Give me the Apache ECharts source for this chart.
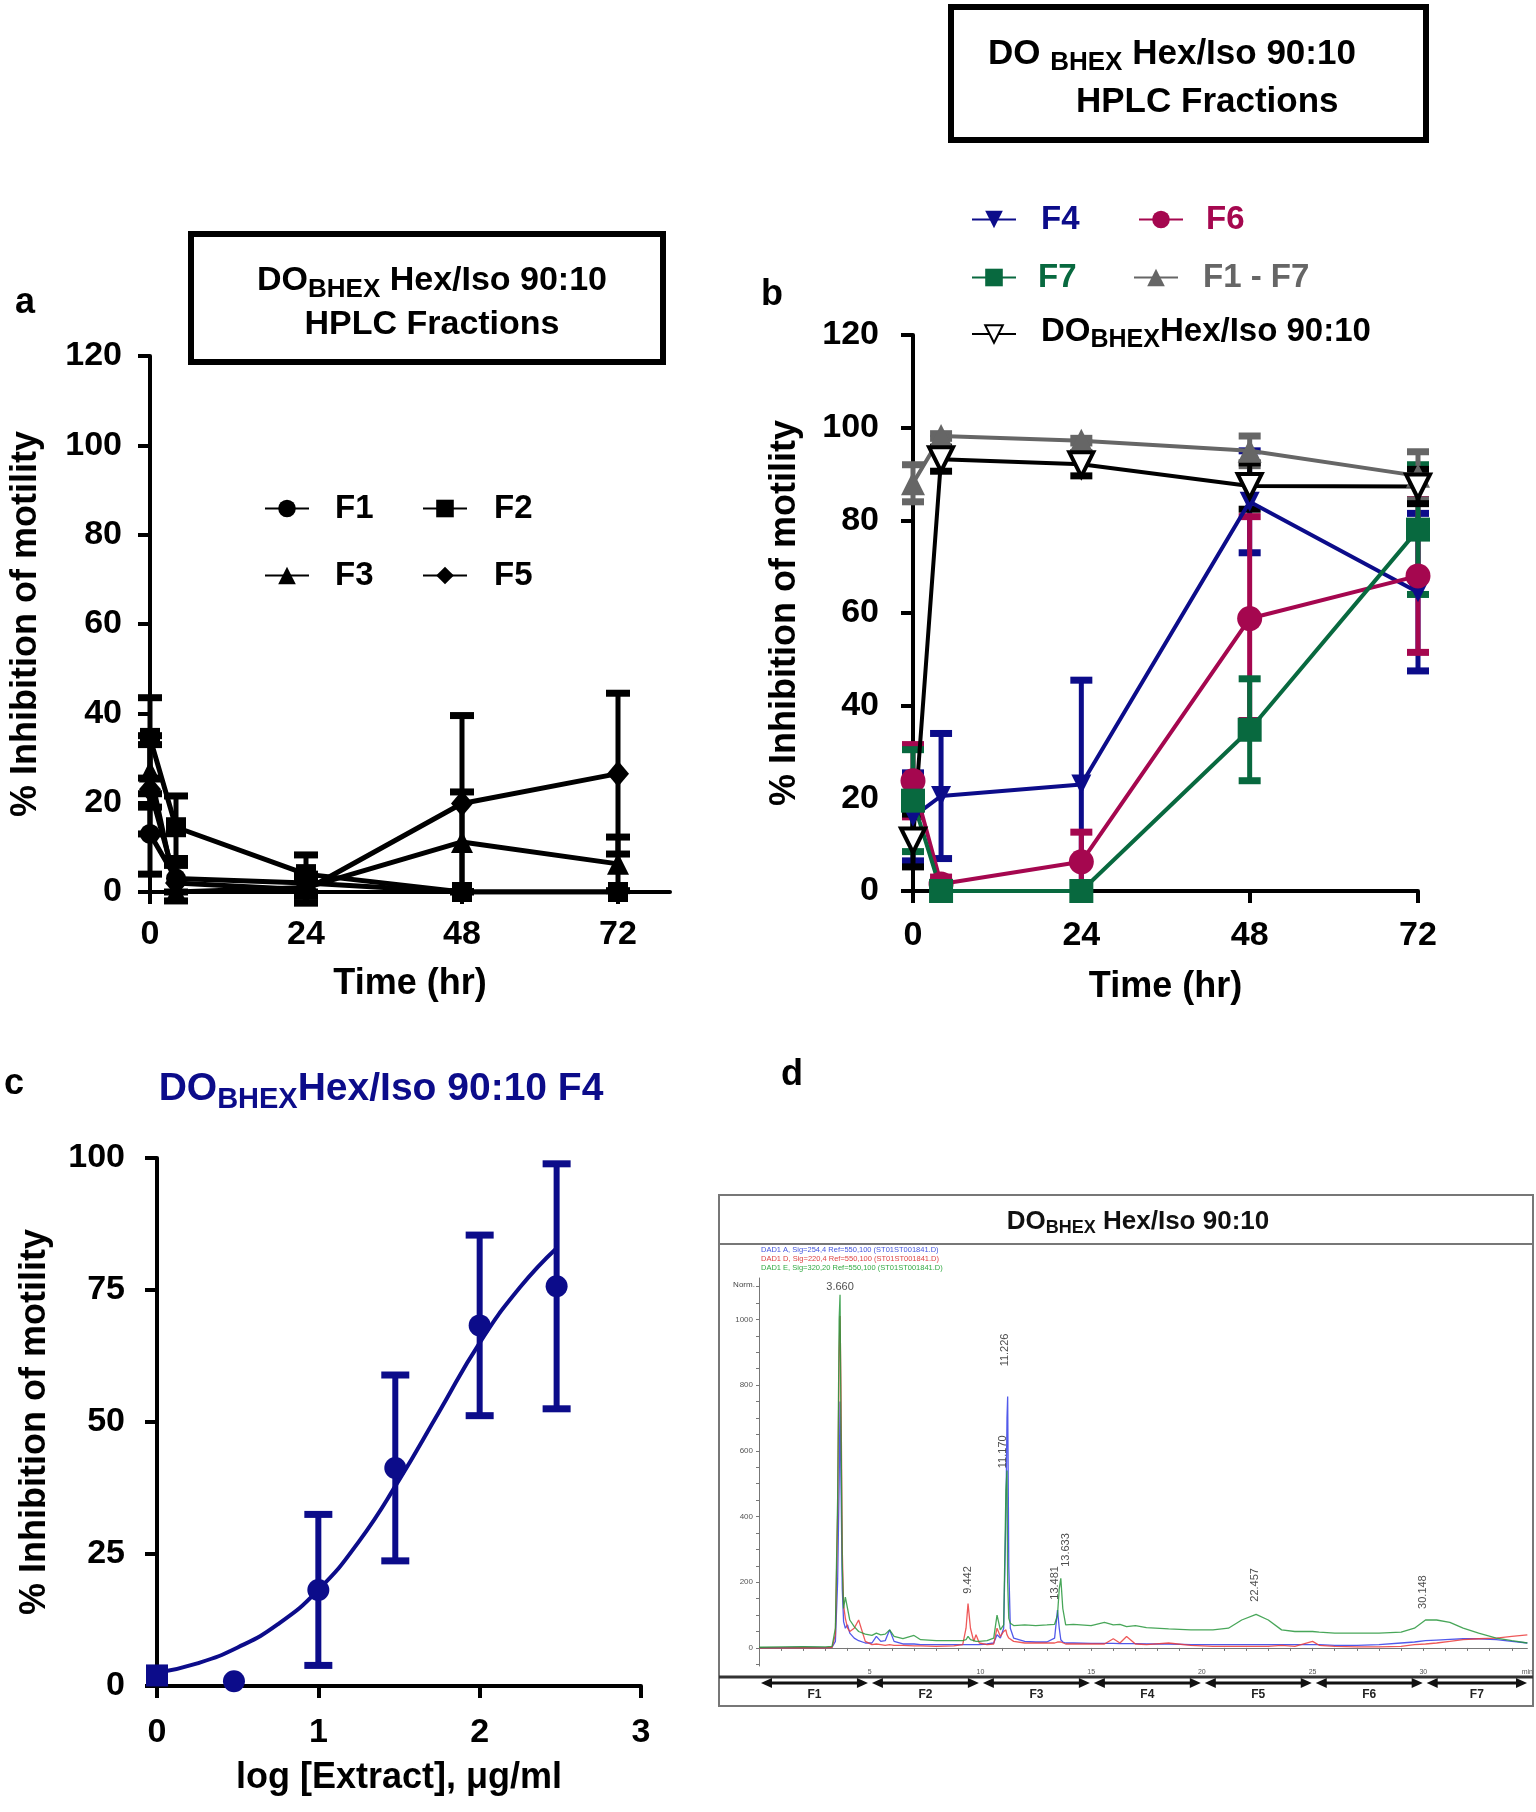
<!DOCTYPE html>
<html><head><meta charset="utf-8">
<script src="https://cdn.jsdelivr.net/npm/echarts@6/dist/echarts.min.js"></script>
<style>html,body{margin:0;padding:0;background:#fff}#c{width:1536px;height:1812px}</style>
</head><body><div id="c"></div>
<script>
const FONT = '"Liberation Sans", Arial, Helvetica, sans-serif';

// ---------- Panel a : HPLC fractions F1,F2,F3,F5 ----------
const timesA = [0, 4, 24, 48, 72];
const aF1 = [13, 3, 2, 0, 0];
const aF1err = [9, 3, 2, 0, 0];
const aF2 = [34.5, 14.5, 4, 0, 0];
const aF2err = [9, 7, 4.3, 0, 0];
const aF3 = [27, 0, 1, 11.2, 6.3];
const aF3err = [8, 0, 2, 11.2, 6];
const aF5 = [23, 2, 0.5, 19.8, 26.5];
const aF5err = [10, 4, 3, 19.7, 18];
const timeTicks = [0, 24, 48, 72];

// ---------- Panel b : F4, F6, F7, F1-F7, crude ----------
const timesB = [0, 4, 24, 48, 72];
const bF4 = [16, 20.5, 23, 84, 64.5];
const bF4err = [9.5, 13.5, 22.5, 11, 17];
const bF6 = [23.8, 1.5, 6.3, 58.8, 68];
const bF6err = [7.8, 1.5, 6.4, 22, 16.5];
const bF7 = [19.5, 0, 0, 34.8, 78];
const bF7err = [11, 0, 0, 11, 14];
const bAll = [88, 98.2, 97.2, 95, 89.6];
const bAllErr = [4, 0.5, 0.5, 3.2, 5.2];
const bDO = [10.9, 93.2, 92.1, 87.4, 87.3];
const bDOerr = [5.7, 2.6, 2.5, 5, 3.7];

// ---------- Panel c : dose response of F4 ----------
const cDose = [0, 0.477, 1, 1.477, 2, 2.477];
const cInhib = [2.0, 0.9, 18.2, 41.3, 68.3, 75.7];
const cSem = [0, 0, 14.3, 17.6, 17.1, 23.2];
const cCurveX = [0, 0.25, 0.5, 0.75, 1, 1.25, 1.5, 1.75, 2, 2.25, 2.48];
const cCurveY = [2.5, 4.3, 7.3, 11.7, 18.2, 27.3, 39, 52, 65, 75.5, 83];

// ---------- Panel d : HPLC chromatogram ----------
const chromT = [0,1,2,3,3.3,3.45,3.55,3.62,3.66,3.7,3.76,3.82,3.9,4.0,4.1,4.3,4.5,4.8,5.1,5.3,5.5,5.7,5.9,6.1,6.5,7.0,7.3,8.0,8.8,9.2,9.35,9.44,9.55,9.7,9.8,9.95,10.3,10.6,10.75,10.9,11.05,11.15,11.2,11.23,11.28,11.35,11.5,12,12.5,13.0,13.35,13.48,13.56,13.63,13.72,13.85,14.2,15,15.6,16.0,16.3,16.6,17.0,17.5,18.5,19.5,20.5,21.2,21.8,22.45,23.0,23.6,24.2,25.0,25.3,26,27,28,29,29.6,30.1,30.6,31.2,31.8,32.5,33.3,34,34.7];
const chromBlue = [1,1,2,1,2,20,200,500,750,520, 180,80,60,70,45,30,22,15,15,35, 20,22,55,20,12,12,10,10,10,10, 10,12,10,10,10,10,12,15,40,30, 60,400,700,765,250,60,30,20,18,18, 30,115,60,25,18,15,15,14,14,14, 13,13,13,12,12,10,10,10,10,10, 10,10,10,10,10,8,8,10,15,18, 22,24,26,28,28,25,20,15];
const chromRed = [0,0,1,0,2,40,400,900,1010,800, 300,130,90,60,50,60,85,20,10,12, 10,8,10,8,8,6,6,5,6,10, 60,135,60,20,40,15,10,12,60,35, 50,55,40,35,30,25,20,15,15,15, 15,18,20,18,15,12,12,12,12,28, 15,35,12,10,15,8,5,5,5,5, 5,8,5,20,8,5,3,3,5,10, 12,15,20,25,28,30,35,40];
const chromGreen = [2,3,4,3,5,60,450,1000,1075,700, 250,120,155,120,85,65,50,42,38,45, 40,42,55,35,28,38,25,22,22,22, 25,35,25,22,20,20,22,30,100,55, 70,480,540,200,90,75,68,70,68,70, 72,100,180,212,120,70,72,68,78,70, 72,65,68,62,58,55,55,60,85,102, 85,55,50,50,48,45,45,45,48,60, 85,85,78,60,45,30,22,15];
const peakNames = ['3.660','9.442','11.226','11.170','13.481','13.633','22.457','30.148'];
const peakT = [3.66, 9.43, 11.1, 11.0, 13.36, 13.85, 22.38, 30.0];
const peakV = [1100, 207, 907, 597, 198, 298, 192, 170];
const peakRot = [0, 90, 90, 90, 90, 90, 90, 90];
const fracNames = ['F1','F2','F3','F4','F5','F6','F7'];
const fracStart = [0, 5, 10, 15, 20, 25, 30];
const fracEnd = [5, 10, 15, 20, 25, 30, 34.7];
const chromYLabels = [0, 200, 400, 600, 800, 1000];
const chromXLabels = [5, 10, 15, 20, 25, 30, 34.7];

const NAVY = '#0c0c8a', CRIMSON = '#a5074f', GREEN = '#08693f', GRAY = '#666666';

function pts(xs, ys) { return xs.map((x, i) => [x, ys[i]]); }
function errData(xs, ys, es) {
  const out = [];
  xs.forEach((x, i) => { if (es[i] > 0) out.push([x, ys[i] - es[i], ys[i] + es[i]]); });
  return out;
}
function errSeries(gi, data, color, capW, lw, capLw) {
  return {
    type: 'custom', xAxisIndex: gi, yAxisIndex: gi, data: data, z: 1, silent: true,
    encode: { x: 0, y: [1, 2] },
    renderItem: function (params, api) {
      const x = api.value(0), lo = api.value(1), hi = api.value(2);
      const p1 = api.coord([x, hi]), p2 = api.coord([x, lo]);
      const st = { stroke: color, lineWidth: lw };
      const cs = { stroke: color, lineWidth: capLw };
      return { type: 'group', children: [
        { type: 'line', shape: { x1: p1[0], y1: p1[1], x2: p2[0], y2: p2[1] }, style: st },
        { type: 'line', shape: { x1: p1[0] - capW / 2, y1: p1[1], x2: p1[0] + capW / 2, y2: p1[1] }, style: cs },
        { type: 'line', shape: { x1: p2[0] - capW / 2, y1: p2[1], x2: p2[0] + capW / 2, y2: p2[1] }, style: cs }
      ]};
    }
  };
}
function lineSeries(gi, name, xs, ys, color, symbol, size, lw, extra) {
  return Object.assign({
    type: 'line', name: name, xAxisIndex: gi, yAxisIndex: gi, data: pts(xs, ys),
    symbol: symbol, symbolSize: size, showSymbol: true,
    lineStyle: { color: color, width: lw }, itemStyle: { color: color, opacity: 1 }, z: 3, silent: true
  }, extra || {});
}
function bigAxis(o) {
  const base = {
    axisLine: { show: true, lineStyle: { color: '#000', width: 4 } },
    axisTick: { show: true, length: 12, lineStyle: { color: '#000', width: 4 } },
    axisLabel: { color: '#000', fontSize: 34, fontWeight: 'bold', fontFamily: FONT },
    splitLine: { show: false },
    nameLocation: 'middle',
    nameTextStyle: { color: '#000', fontSize: 36, fontWeight: 'bold', fontFamily: FONT }
  };
  const r = Object.assign({}, base, o);
  r.axisTick = Object.assign({}, base.axisTick, o.axisTick || {});
  r.axisLabel = Object.assign({}, base.axisLabel, o.axisLabel || {});
  return r;
}
function rich(n, s, color) {
  return {
    n: { fontSize: n, fontWeight: 'bold', fontFamily: FONT, fill: color, color: color, verticalAlign: 'top' },
    s: { fontSize: s, fontWeight: 'bold', fontFamily: FONT, fill: color, color: color, verticalAlign: 'top', padding: [Math.round(n * 0.38), 0, 0, 0] }
  };
}
function subText(a, b, c) { return '{n|' + a + '}{s|' + b + '}{n|' + c + '}'; }
function gText(x, y, text, opt) {
  opt = opt || {};
  const st = Object.assign({
    text: text, fill: '#000', font: 'bold 34px ' + FONT,
    textAlign: opt.align || 'center', align: opt.align || 'center',
    textVerticalAlign: 'middle', verticalAlign: 'middle'
  }, opt.style || {});
  return { type: 'text', x: x, y: y, style: st, z: 10 };
}
function legendItem(name, left, top, color, pad, fs, extra) {
  return Object.assign({
    data: [name], left: left, top: top, itemWidth: 44, itemHeight: 22, selectedMode: false,
    padding: 0, textStyle: { color: color, fontSize: fs, fontWeight: 'bold', fontFamily: FONT, padding: [0, 0, 0, pad] }
  }, extra || {});
}

const chart = echarts.init(document.getElementById('c'), null, { renderer: 'canvas' });

const option = {
  backgroundColor: '#fff',
  animation: false,
  grid: [
    { left: 150, top: 356, width: 520, height: 536 },
    { left: 913, top: 335, width: 505, height: 556 },
    { left: 157, top: 1158, width: 484, height: 528 },
    { left: 759, top: 1278, width: 770, height: 388 },
    { left: 759, top: 1679, width: 770, height: 8 }
  ],
  xAxis: [
    bigAxis({ gridIndex: 0, type: 'value', min: 0, max: 80, interval: 24, name: 'Time (hr)', nameGap: 74,
      axisTick: { customValues: timeTicks }, axisLabel: { customValues: timeTicks, margin: 26 } }),
    bigAxis({ gridIndex: 1, type: 'value', min: 0, max: 72, interval: 24, name: 'Time (hr)', nameGap: 78,
      axisLabel: { margin: 28 } }),
    bigAxis({ gridIndex: 2, type: 'value', min: 0, max: 3, interval: 1, name: 'log [Extract], \u03bcg/ml', nameGap: 74,
      axisLabel: { margin: 30 } }),
    { gridIndex: 3, type: 'value', min: 0, max: 34.7, splitLine: { show: false },
      axisLine: { lineStyle: { color: '#777', width: 1 } },
      axisTick: { customValues: [1,2,3,4,5,6,7,8,9,10,11,12,13,14,15,16,17,18,19,20,21,22,23,24,25,26,27,28,29,30,31,32,33,34], length: 3, lineStyle: { color: '#777', width: 1 } },
      axisLabel: { customValues: chromXLabels, fontSize: 7, color: '#555', margin: 3, formatter: v => (v > 34 ? 'min' : String(v)) } },
    { gridIndex: 4, type: 'value', min: 0, max: 34.7, show: false }
  ],
  yAxis: [
    bigAxis({ gridIndex: 0, type: 'value', min: 0, max: 120, interval: 20, name: '% Inhibition of motility', nameGap: 106,
      axisLabel: { margin: 28 } }),
    bigAxis({ gridIndex: 1, type: 'value', min: 0, max: 120, interval: 20, name: '% Inhibition of motility', nameGap: 110,
      axisLabel: { margin: 34 } }),
    bigAxis({ gridIndex: 2, type: 'value', min: 0, max: 100, interval: 25, name: '% Inhibition of motility', nameGap: 104,
      axisLabel: { margin: 32 } }),
    { gridIndex: 3, type: 'value', min: -55, max: 1126, splitLine: { show: false },
      axisLine: { show: true, lineStyle: { color: '#777', width: 1 } },
      axisTick: { show: true, customValues: [-50,0,50,100,150,200,250,300,350,400,450,500,550,600,650,700,750,800,850,900,950,1000,1050,1100], length: 3, lineStyle: { color: '#777', width: 1 } },
      axisLabel: { customValues: chromYLabels, fontSize: 8, color: '#555', margin: 6, formatter: v => String(v) } },
    { gridIndex: 4, type: 'value', min: 0, max: 1, show: false }
  ],
  legend: [
    legendItem('F1', 264, 492, '#000', 21, 33),
    legendItem('F2', 422, 492, '#000', 22, 33),
    legendItem('F3', 264, 559, '#000', 21, 33),
    legendItem('F5', 422, 559, '#000', 22, 33),
    legendItem('F4', 971, 203, NAVY, 20, 33),
    legendItem('F6', 1138, 203, CRIMSON, 18, 33),
    legendItem('F7', 971, 261, GREEN, 17, 33),
    legendItem('F1 - F7', 1133, 261, GRAY, 20, 33),
    legendItem('DO', 971, 315, '#000', 20, 33, {
      formatter: () => subText('DO', 'BHEX', 'Hex/Iso 90:10'),
      textStyle: { color: '#000', fontSize: 33, fontWeight: 'bold', fontFamily: FONT, padding: [0, 0, 0, 20], rich: rich(33, 25, '#000') }
    })
  ],
  series: [
    // panel a
    errSeries(0, errData(timesA, aF1, aF1err), '#000', 24, 5, 7),
    errSeries(0, errData(timesA, aF2, aF2err), '#000', 24, 5, 7),
    errSeries(0, errData(timesA, aF3, aF3err), '#000', 24, 5, 7),
    errSeries(0, errData(timesA, aF5, aF5err), '#000', 24, 5, 7),
    lineSeries(0, 'F1', timesA, aF1, '#000', 'circle', 20, 5),
    lineSeries(0, 'F2', timesA, aF2, '#000', 'rect', 20, 5),
    lineSeries(0, 'F3', timesA, aF3, '#000', 'triangle', 22, 5),
    lineSeries(0, 'F5', timesA, aF5, '#000', 'diamond', [22, 26], 5),
    // panel b
    errSeries(1, errData(timesB, bF4, bF4err), NAVY, 22, 5, 7),
    errSeries(1, errData(timesB, bF6, bF6err), CRIMSON, 22, 5, 7),
    errSeries(1, errData(timesB, bF7, bF7err), GREEN, 22, 5, 7),
    errSeries(1, errData(timesB, bAll, bAllErr), GRAY, 22, 5, 7),
    errSeries(1, errData(timesB, bDO, bDOerr), '#000', 22, 5, 7),
    lineSeries(1, 'F4', timesB, bF4, NAVY, 'triangle', 20, 4, { symbolRotate: 180 }),
    lineSeries(1, 'F6', timesB, bF6, CRIMSON, 'circle', 25, 4),
    lineSeries(1, 'F7', timesB, bF7, GREEN, 'rect', 24, 4),
    lineSeries(1, 'F1 - F7', timesB, bAll, GRAY, 'triangle', 24, 4),
    lineSeries(1, 'DO', timesB, bDO, '#000', 'triangle', 24, 4, { symbolRotate: 180,
      itemStyle: { color: '#fff', borderColor: '#000', borderWidth: 4, opacity: 1 } }),
    // panel c
    errSeries(2, errData(cDose, cInhib, cSem), NAVY, 28, 6, 7),
    { type: 'line', xAxisIndex: 2, yAxisIndex: 2, data: pts(cCurveX, cCurveY), smooth: true, showSymbol: false,
      lineStyle: { color: NAVY, width: 4 }, z: 2, silent: true },
    { type: 'scatter', xAxisIndex: 2, yAxisIndex: 2, z: 4, silent: true,
      data: cDose.map((d, i) => (i === 0 ? { value: [d, cInhib[i]], symbol: 'rect' } : [d, cInhib[i]])),
      symbol: 'circle', symbolSize: 22, itemStyle: { color: NAVY, opacity: 1 } },
    // panel d
    { type: 'line', xAxisIndex: 3, yAxisIndex: 3, data: pts(chromT, chromBlue), showSymbol: false, silent: true,
      lineStyle: { color: 'rgba(50,60,230,0.85)', width: 1.3 } },
    { type: 'line', xAxisIndex: 3, yAxisIndex: 3, data: pts(chromT, chromRed), showSymbol: false, silent: true,
      lineStyle: { color: 'rgba(235,60,60,0.85)', width: 1.3 } },
    { type: 'line', xAxisIndex: 3, yAxisIndex: 3, data: pts(chromT, chromGreen), showSymbol: false, silent: true,
      lineStyle: { color: 'rgba(40,150,60,0.85)', width: 1.3 } },
    { type: 'scatter', xAxisIndex: 3, yAxisIndex: 3, symbolSize: 0, silent: true, z: 5,
      data: peakNames.map((n, i) => ({ value: [peakT[i], peakV[i]], name: n, label: { rotate: peakRot[i] } })),
      label: { show: true, position: 'inside', formatter: p => p.name, fontSize: 11, color: '#222', fontFamily: FONT } },
    { type: 'custom', xAxisIndex: 4, yAxisIndex: 4, silent: true,
      data: fracNames.map((n, i) => [fracStart[i], fracEnd[i], n]),
      encode: { x: [0, 1] },
      renderItem: function (params, api) {
        const a = api.coord([api.value(0), 0.5]), b = api.coord([api.value(1), 0.5]);
        const name = fracNames[params.dataIndex];
        const x1 = a[0] + 2, x2 = b[0] - 2, y = a[1];
        return { type: 'group', children: [
          { type: 'line', shape: { x1: x1 + 6, y1: y, x2: x2 - 6, y2: y }, style: { stroke: '#111', lineWidth: 3 } },
          { type: 'polygon', shape: { points: [[x1, y], [x1 + 11, y - 5], [x1 + 11, y + 5]] }, style: { fill: '#111' } },
          { type: 'polygon', shape: { points: [[x2, y], [x2 - 11, y - 5], [x2 - 11, y + 5]] }, style: { fill: '#111' } },
          { type: 'text', x: (x1 + x2) / 2, y: y + 12, style: { text: name, font: 'bold 12px ' + FONT, fill: '#222', align: 'center', textAlign: 'center', verticalAlign: 'middle', textVerticalAlign: 'middle' } }
        ]};
      } }
  ],
  graphic: [
    // panel a box
    { type: 'rect', shape: { x: 191, y: 234, width: 472, height: 128 }, style: { fill: 'none', stroke: '#000', lineWidth: 6 } },
    gText(432, 283, subText('DO', 'BHEX', ' Hex/Iso 90:10'), { style: { rich: rich(34, 26, '#000') } }),
    gText(432, 325, 'HPLC Fractions', { style: { font: 'bold 34px ' + FONT } }),
    // panel b box
    { type: 'rect', shape: { x: 951, y: 7, width: 475, height: 133 }, style: { fill: 'none', stroke: '#000', lineWidth: 6 } },
    gText(988, 56, subText('DO ', 'BHEX', ' Hex/Iso 90:10'), { align: 'left', style: { rich: rich(35, 26, '#000') } }),
    gText(1076, 102, 'HPLC Fractions', { align: 'left', style: { font: 'bold 35px ' + FONT } }),
    // panel letters
    gText(25, 303, 'a', { style: { font: 'bold 36px ' + FONT } }),
    gText(772, 295, 'b', { style: { font: 'bold 36px ' + FONT } }),
    gText(14, 1084, 'c', { style: { font: 'bold 36px ' + FONT } }),
    gText(792, 1075, 'd', { style: { font: 'bold 36px ' + FONT } }),
    // panel c title
    gText(381, 1092, subText('DO', 'BHEX', 'Hex/Iso 90:10 F4'), { style: { rich: rich(39, 29, NAVY) } }),
    // panel d frame
    { type: 'rect', shape: { x: 719, y: 1195, width: 814, height: 511 }, style: { fill: 'none', stroke: '#777', lineWidth: 2 } },
    { type: 'line', shape: { x1: 719, y1: 1244, x2: 1533, y2: 1244 }, style: { stroke: '#777', lineWidth: 2 } },
    { type: 'line', shape: { x1: 719, y1: 1677, x2: 1533, y2: 1677 }, style: { stroke: '#333', lineWidth: 3 } },
    gText(1138, 1223, subText('DO', 'BHEX', ' Hex/Iso 90:10'), { style: { rich: rich(26, 18, '#111') } }),
    gText(761, 1250, 'DAD1 A, Sig=254,4 Ref=550,100 (ST01ST001841.D)', { align: 'left', style: { font: '7.5px ' + FONT, fill: '#4455dd' } }),
    gText(761, 1259, 'DAD1 D, Sig=220,4 Ref=550,100 (ST01ST001841.D)', { align: 'left', style: { font: '7.5px ' + FONT, fill: '#dd4444' } }),
    gText(761, 1268, 'DAD1 E, Sig=320,20 Ref=550,100 (ST01ST001841.D)', { align: 'left', style: { font: '7.5px ' + FONT, fill: '#33aa44' } }),
    gText(744, 1285, 'Norm.', { style: { font: '8px ' + FONT, fill: '#444' } })
  ]
};
chart.setOption(option);
</script></body></html>
